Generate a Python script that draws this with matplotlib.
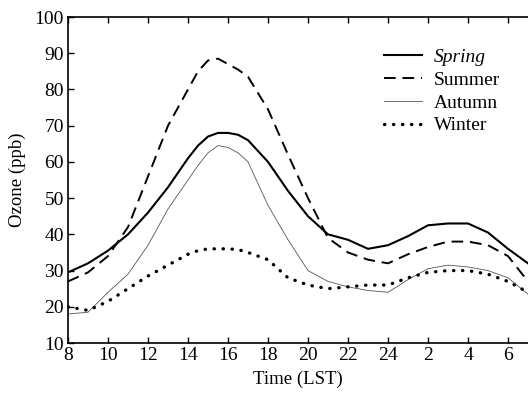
import matplotlib

matplotlib.use("Agg")
import matplotlib.pyplot as plt

# --- data: mean ozone (ppb) by time of day (LST), 8 -> next day 7 ---
hours = [8, 9, 10, 11, 12, 13, 14, 14.5, 15, 15.5, 16, 16.5, 17, 18, 19, 20, 21, 22,
         23, 24, 25, 26, 27, 28, 29, 30, 31]
spring = [29.5, 32, 35.5, 40, 46, 53, 61, 64.5, 67, 68, 68, 67.5, 66, 60, 52, 45, 40,
          38.5, 36, 37, 39.5, 42.5, 43, 43, 40.5, 36, 32]
summer = [27, 29.5, 34, 42, 56, 70, 80, 85, 88, 88.5, 87, 85.5, 83.5, 74.5, 62, 50, 39,
          35, 33, 32, 34.5, 36.5, 38, 38, 37, 34, 27]
autumn = [18, 18.5, 24, 29, 37, 47, 55, 59, 62.5, 64.5, 64, 62.5, 60, 48, 38.5, 30, 27,
          25.5, 24.5, 24, 27.5, 30.5, 31.5, 31, 30, 28, 23.5]
winter = [20, 19, 21.5, 25, 28.5, 31.5, 34.5, 35.5, 36, 36, 36, 35.8, 35, 33, 28, 26, 25,
          25.5, 26, 26, 28, 29.5, 30, 30, 29, 27, 24]

xticks = [8, 10, 12, 14, 16, 18, 20, 22, 24, 26, 28, 30]
xticklabels = ["8", "10", "12", "14", "16", "18", "20", "22", "24", "2", "4", "6"]
yticks = list(range(10, 101, 10))

plt.rcParams["font.family"] = ["Liberation Serif", "DejaVu Serif"]

fig = plt.figure(figsize=(5.28, 4.01), dpi=100)
ax = fig.add_axes([0.1288, 0.1446, 0.8712, 0.813])

ax.plot(hours, spring, color="black", lw=1.5, label="Spring")
ax.plot(hours, summer, color="black", lw=1.4, ls=(0, (6, 3.5)), label="Summer")
ax.plot(hours, autumn, color="#555555", lw=0.6, label="Autumn")
ax.plot(hours, winter, color="black", lw=2.4, ls=(0, (0.1, 2.6)),
        dash_capstyle="round", label="Winter")

ax.set_xlim(8, 31)
ax.set_ylim(10, 100)
ax.set_xticks(xticks)
ax.set_xticklabels(xticklabels)
ax.set_yticks(yticks)
ax.tick_params(direction="in", top=True, labelsize=14, length=4, width=1, pad=3)
ax.spines["right"].set_visible(False)
for s in ("left", "bottom", "top"):
    ax.spines[s].set_linewidth(1.2)

ax.set_xlabel("Time (LST)", fontsize=13.5, labelpad=5)
ax.set_ylabel("Ozone (ppb)", fontsize=13.5, labelpad=6)

leg = ax.legend(loc="upper left", bbox_to_anchor=(0.648, 0.958), frameon=False,
                fontsize=14, handlelength=2.0, handletextpad=0.6, labelspacing=0.27)
leg.get_texts()[0].set_style("italic")

fig.savefig("out.png", dpi=100)
